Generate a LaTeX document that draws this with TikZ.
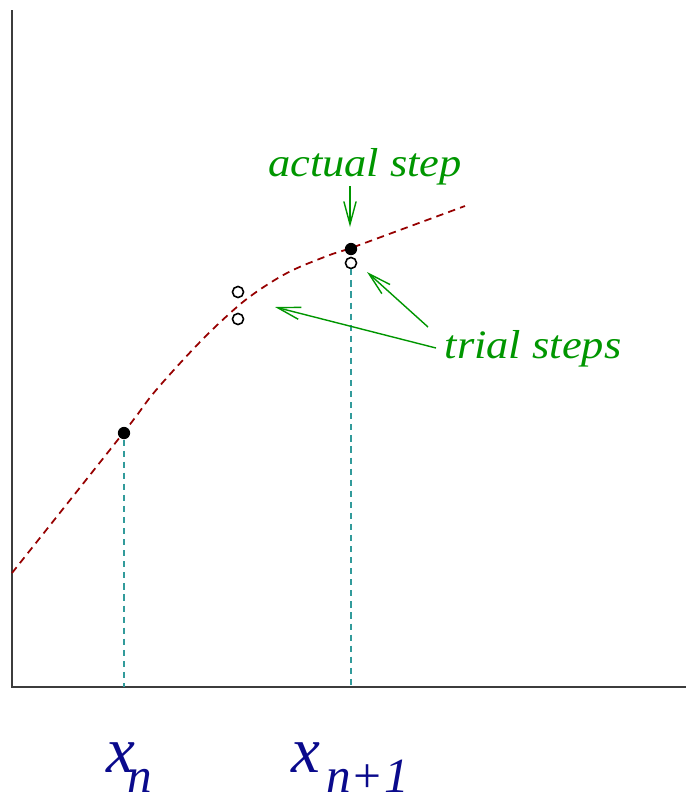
\documentclass[tikz,border=0pt]{standalone}
\usepackage{fontspec}
\setmainfont{Liberation Serif}
\usetikzlibrary{arrows.meta}
\definecolor{lblgreen}{RGB}{0,150,0}
\definecolor{curvered}{RGB}{150,0,0}
\definecolor{guideteal}{RGB}{50,155,155}
\definecolor{labelnavy}{RGB}{10,10,140}
\definecolor{axisgray}{RGB}{60,60,60}
\tikzset{
  axisline/.style={axisgray, line width=1.1pt},
  curveline/.style={curvered, line width=1pt, dash pattern=on 4.2pt off 3pt},
  guideline/.style={guideteal, line width=1pt, dash pattern=on 3.5pt off 2.8pt},
  filleddot/.style={circle, fill=black, inner sep=0pt, minimum size=7pt},
  opendot/.style={circle, draw=black, line width=0.9pt, fill=white, inner sep=0pt, minimum size=6.3pt},
  pointer/.style={lblgreen, line width=0.8pt, -{Straight Barb[length=13pt, width=7pt]}},
  greenlabel/.style={lblgreen, font=\fontsize{23}{26}\selectfont\itshape, inner sep=0pt},
  axislabel/.style={labelnavy, font=\fontsize{37}{42}\selectfont\itshape, inner sep=0pt, anchor=base west},
  sublabel/.style={labelnavy, font=\fontsize{28}{32}\selectfont\itshape, inner sep=0pt, anchor=base west}
}
\begin{document}
\begin{tikzpicture}[x=0.02cm, y=-0.02cm]
\useasboundingbox (0,0) rectangle (686,799);
% axes
\coordinate (top) at (12,10);
\coordinate (origin) at (12,687);
\coordinate (right) at (686,687);
\draw[axisline] (top) -- (origin) -- (right);
% curve
\draw[curveline] plot[smooth, tension=0.55] coordinates {(12,573) (124,432) (152,395) (183,360) (213,329) (248,298) (287,273) (327,256) (351,248) (400,230) (465,206)};
% guides
\coordinate (fxn) at (124,687);
\coordinate (fxn1) at (351,687);
\node[filleddot] (pn) at (124,433) {};
\node[filleddot] (pn1) at (351,249) {};
\node[opendot] (t1) at (238,292) {};
\node[opendot] (t2) at (238,319) {};
\node[opendot] (t3) at (351,263) {};
\draw[guideline] (pn.south) -- (fxn);
\draw[guideline] (t3.south) -- (fxn1);
% labels
\node[greenlabel] (actual) at (365,167) {\scalebox{1.1}[1]{actual step}};
\node[greenlabel] (trial) at (533,349) {\scalebox{1.1}[1]{trial steps}};
\coordinate (a1s) at (350,186);
\coordinate (a1e) at (350,227);
\coordinate (a2s) at (428,327);
\coordinate (a2e) at (367,272);
\coordinate (a3s) at (436,348);
\coordinate (a3e) at (275,307);
\draw[pointer] (a1s) -- (a1e);
\draw[pointer] (a2s) -- (a2e);
\draw[pointer] (a3s) -- (a3e);
% axis labels
\node[axislabel] (xa) at (106,772) {x};
\node[sublabel] (xan) at (127,792) {n};
\node[axislabel] (xb) at (291,772) {x};
\node[sublabel] (xbn) at (326,792) {n+1};
\end{tikzpicture}
\end{document}
